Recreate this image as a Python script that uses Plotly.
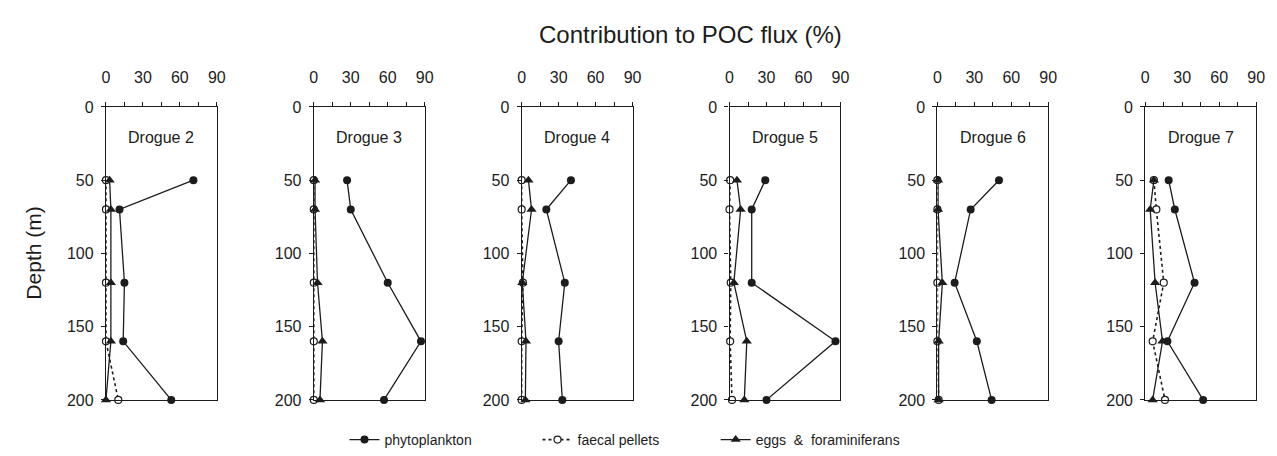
import plotly.graph_objects as go

# Sampling depths (m) shared by all drogues
depths = [50, 70, 120, 160, 200]

drogues = ["Drogue 2", "Drogue 3", "Drogue 4", "Drogue 5", "Drogue 6", "Drogue 7"]

# Contribution to POC flux (%) per drogue, ordered by depth
phytoplankton = [
    [71, 11, 15, 14, 53],
    [27, 30, 60, 87, 57],
    [40, 20, 35, 30, 33],
    [29, 18, 18, 86, 30],
    [50, 27, 14, 32, 44],
    [19, 24, 40, 18, 47],
]
faecal_pellets = [
    [0, 0, 0, 0, 10],
    [0, 0, 0, 0, 0],
    [0, 0, 1, 0, 0],
    [0.5, 0, 1, 0.5, 2],
    [0, 0, 0, 0, 1],
    [7, 9, 15, 6, 16],
]
eggs_foraminiferans = [
    [3, 4, 4, 4, 0],
    [1, 1, 3, 7, 5],
    [5.5, 8, 0.5, 3.5, 3],
    [6, 9, 3.5, 14, 12],
    [0.5, 0.5, 4, 1, 1],
    [7, 4, 8, 14, 6],
]

x_ticks = [0, 30, 60, 90]
y_ticks = [0, 50, 100, 150, 200]

W, H = 1277, 456
INK = "#1c1c1c"
FONT = "Liberation Sans, Arial, sans-serif"

# panel geometry in pixels
panel_left0, panel_step, panel_w = 103, 210, 112
plot_top, plot_bottom = 103, 408

fig = go.Figure()
layout = {}

for i, name in enumerate(drogues):
    n = "" if i == 0 else str(i + 1)
    xa, ya = "x" + n, "y" + n
    show = i == 0

    fig.add_trace(go.Scatter(
        x=faecal_pellets[i], y=depths, xaxis=xa, yaxis=ya,
        mode="lines+markers", name="faecal pellets", legend="legend2",
        legendgroup="f", showlegend=show, cliponaxis=False,
        line=dict(color=INK, width=1.6, dash="dot"),
        marker=dict(symbol="circle", size=7, color="white",
                    line=dict(color=INK, width=1.2)),
    ))
    fig.add_trace(go.Scatter(
        x=eggs_foraminiferans[i], y=depths, xaxis=xa, yaxis=ya,
        mode="lines+markers", name="eggs  &  foraminiferans", legend="legend3",
        legendgroup="e", showlegend=show, cliponaxis=False,
        line=dict(color=INK, width=1.3),
        marker=dict(symbol="triangle-up", size=9, color=INK),
    ))
    fig.add_trace(go.Scatter(
        x=phytoplankton[i], y=depths, xaxis=xa, yaxis=ya,
        mode="lines+markers", name="phytoplankton", legend="legend",
        legendgroup="p", showlegend=show, cliponaxis=False,
        line=dict(color=INK, width=1.3),
        marker=dict(symbol="circle", size=8, color=INK),
    ))

    left = panel_left0 + i * panel_step
    x0, x1 = left / W, (left + panel_w) / W
    y0, y1 = 1 - plot_bottom / H, 1 - plot_top / H

    layout["xaxis" + n] = dict(
        domain=[x0, x1], anchor=ya, side="top", range=[0, 90],
        tickvals=x_ticks, ticks="outside", ticklen=4, tickwidth=1,
        tickcolor=INK, minor=dict(dtick=15, ticks="outside", ticklen=4,
                                  tickcolor=INK),
        ticklabelstandoff=12,
        showline=True, linecolor=INK, linewidth=1.2, mirror=True,
        showgrid=False, zeroline=False,
        tickfont=dict(family=FONT, size=16, color=INK),
    )
    layout["yaxis" + n] = dict(
        domain=[y0, y1], anchor=xa, range=[200, 0],
        tickvals=y_ticks, ticks="outside", ticklen=4, tickwidth=1,
        tickcolor=INK, showline=True, linecolor=INK, linewidth=1.2,
        ticklabelstandoff=4,
        mirror=True, showgrid=False, zeroline=False,
        tickfont=dict(family=FONT, size=16, color=INK),
    )

    fig.add_annotation(
        x=45, y=21, xref=xa, yref=ya, text=name, showarrow=False,
        xanchor="center", yanchor="middle",
        font=dict(family=FONT, size=16, color=INK),
    )

fig.add_annotation(
    x=694 / W, y=1 - 28 / H, xref="paper", yref="paper",
    xanchor="center", yanchor="middle",
    text="Contribution to POC flux (%)", showarrow=False,
    font=dict(family=FONT, size=24, color=INK),
)
fig.add_annotation(
    x=30 / W, y=1 - 255 / H, xref="paper", yref="paper",
    xanchor="center", yanchor="middle",
    text="Depth (m)", showarrow=False, textangle=-90,
    font=dict(family=FONT, size=21, color=INK),
)

legend_y = 1 - 450 / H
legend_common = dict(
    orientation="h", y=legend_y, xanchor="left", yanchor="middle",
    font=dict(family=FONT, size=14, color=INK),
    bgcolor="rgba(0,0,0,0)",
)

fig.update_layout(
    width=W, height=H,
    margin=dict(l=0, r=0, t=0, b=0),
    paper_bgcolor="white", plot_bgcolor="white",
    showlegend=True,
    legend=dict(x=344 / W, **legend_common),
    legend2=dict(x=539 / W, **legend_common),
    legend3=dict(x=719 / W, **legend_common),
    **layout,
)

fig.write_html("out.html")
